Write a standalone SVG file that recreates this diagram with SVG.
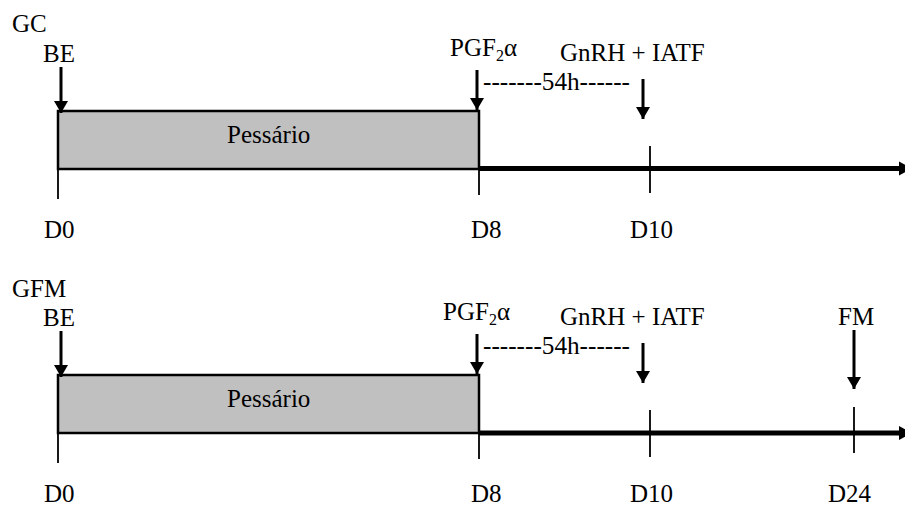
<svg xmlns="http://www.w3.org/2000/svg" width="905" height="506" viewBox="0 0 905 506">
<style>
text{font-family:"Liberation Serif","Times New Roman",serif;font-size:25px;fill:#000}
.sub{font-size:16px}
.box{fill:#c0c0c0;stroke:#000;stroke-width:2.5}
.tick{stroke:#000;stroke-width:1.8;fill:none}
.axis{stroke:#000;stroke-width:5;fill:none}
.arr{stroke:#000;stroke-width:3;fill:none;marker-end:url(#ah)}
</style>
<defs>
<marker id="ah" viewBox="0 0 12 14" refX="12" refY="7" markerWidth="12" markerHeight="14" markerUnits="userSpaceOnUse" orient="auto">
<path d="M0,0 L12,7 L0,14 Z" fill="#000"/>
</marker>
</defs>
<rect width="905" height="506" fill="#fff"/>

<g id="panel-gc">
<g id="gc-title"><text x="12" y="32">GC</text></g>
<g id="gc-pessario"><rect class="box" x="58" y="111" width="421" height="58"/><text x="227" y="143">Pessário</text></g>
<g id="gc-be"><text x="43" y="62">BE</text></g>
<g id="gc-pgf"><text x="450" y="56">PGF<tspan class="sub" dy="5">2</tspan><tspan dy="-5">α</tspan></text></g>
<g id="gc-54h"><text x="483" y="90" textLength="147" lengthAdjust="spacingAndGlyphs">-------54h------</text></g>
<g id="gc-gnrh"><text x="560" y="61">GnRH + IATF</text></g>
<g id="gc-d0"><text x="44" y="238">D0</text></g>
<g id="gc-d8"><text x="471" y="238">D8</text></g>
<g id="gc-d10"><text x="630" y="238">D10</text></g>
</g>

<g id="panel-gfm">
<g id="gfm-title"><text x="12" y="297">GFM</text></g>
<g id="gfm-pessario"><rect class="box" x="58" y="375" width="421" height="58"/><text x="227" y="407">Pessário</text></g>
<g id="gfm-be"><text x="43" y="326">BE</text></g>
<g id="gfm-pgf"><text x="443" y="320">PGF<tspan class="sub" dy="5">2</tspan><tspan dy="-5">α</tspan></text></g>
<g id="gfm-54h"><text x="483" y="354" textLength="147" lengthAdjust="spacingAndGlyphs">-------54h------</text></g>
<g id="gfm-gnrh"><text x="560" y="325">GnRH + IATF</text></g>
<g id="gfm-fm"><text x="838" y="325">FM</text></g>
<g id="gfm-d0"><text x="44" y="502">D0</text></g>
<g id="gfm-d8"><text x="471" y="502">D8</text></g>
<g id="gfm-d10"><text x="630" y="502">D10</text></g>
<g id="gfm-d24"><text x="828" y="502">D24</text></g>
</g>

<g id="connectors">
<line class="axis" x1="479" y1="168.5" x2="901" y2="168.5"/>
<polygon points="899,161.5 912,168.5 899,175.5" fill="#000"/>
<line class="axis" x1="479" y1="433" x2="901" y2="433"/>
<polygon points="899,426 912,433 899,440" fill="#000"/>
<line class="tick" x1="58" y1="169" x2="58" y2="199"/>
<line class="tick" x1="479" y1="169" x2="479" y2="195"/>
<line class="tick" x1="650" y1="146" x2="650" y2="193"/>
<line class="tick" x1="58" y1="433" x2="58" y2="463"/>
<line class="tick" x1="479" y1="433" x2="479" y2="459"/>
<line class="tick" x1="650" y1="410" x2="650" y2="457"/>
<line class="tick" x1="854" y1="407" x2="854" y2="453"/>
<line class="arr" x1="61" y1="67" x2="61" y2="113"/>
<line class="arr" x1="477" y1="70" x2="477" y2="110"/>
<line class="arr" x1="643" y1="79" x2="643" y2="119"/>
<line class="arr" x1="61" y1="331" x2="61" y2="377"/>
<line class="arr" x1="477" y1="334" x2="477" y2="374"/>
<line class="arr" x1="643" y1="343" x2="643" y2="383"/>
<line class="arr" x1="854" y1="330" x2="854" y2="389"/>
</g>
</svg>
